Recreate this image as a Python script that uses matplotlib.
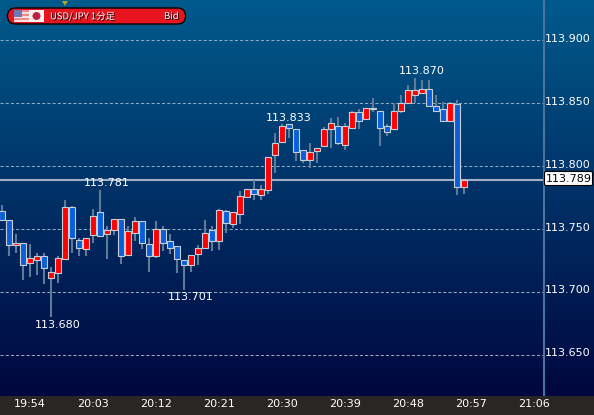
import matplotlib
matplotlib.use('Agg')
import matplotlib.pyplot as plt
import matplotlib.patheffects as pe
from matplotlib.colors import LinearSegmentedColormap
from matplotlib.patches import FancyBboxPatch, Rectangle, Circle, Polygon
import numpy as np

# USD/JPY 1 minute candles (113.xxx)
opens = [.764, .757, .737, .739, .723, .725, .728, .711, .715, .726, .767, .741, .734, .745, .763, .746, .749,
         .758, .729, .747, .756, .738, .728, .750, .740, .736, .725, .721, .730, .735, .749, .740, .764, .754,
         .762, .775, .782, .777, .781, .809, .819, .833, .829, .813, .805, .812, .816, .829, .832, .817, .830,
         .843, .837, .845, .844, .832, .829, .844, .850, .856, .858, .861, .848, .845, .836, .849, .783]
highs = [.769, .757, .746, .739, .738, .731, .731, .720, .728, .773, .768, .743, .743, .766, .781, .752, .758,
         .758, .752, .759, .756, .743, .756, .752, .746, .736, .725, .729, .737, .757, .752, .766, .765, .763,
         .780, .782, .789, .785, .807, .826, .833, .833, .829, .813, .818, .814, .831, .838, .839, .834, .844,
         .845, .846, .854, .844, .833, .850, .856, .864, .870, .868, .868, .856, .851, .851, .852, .789]
lows = [.757, .728, .731, .709, .712, .713, .706, .680, .707, .726, .731, .728, .728, .739, .744, .726, .745,
        .722, .728, .740, .734, .716, .727, .732, .730, .715, .701, .716, .721, .735, .732, .733, .747, .751,
        .754, .775, .773, .773, .778, .794, .819, .822, .804, .802, .798, .802, .816, .814, .817, .813, .830,
        .829, .837, .843, .816, .824, .829, .842, .850, .850, .858, .847, .843, .835, .835, .777, .778]
closes = [.757, .737, .739, .721, .727, .728, .719, .716, .727, .767, .743, .735, .743, .760, .744, .749, .758,
          .728, .748, .756, .739, .728, .750, .739, .735, .726, .721, .729, .735, .747, .740, .765, .755, .763,
          .776, .782, .778, .782, .807, .818, .832, .830, .811, .805, .811, .814, .829, .834, .818, .832, .843,
          .836, .846, .846, .830, .827, .844, .850, .860, .860, .861, .848, .844, .836, .850, .783, .789]

time_ticks = [4, 13, 22, 31, 40, 49, 58, 67, 76]
time_labels = ['19:54', '20:03', '20:12', '20:21', '20:30', '20:39', '20:48', '20:57', '21:06']
price_levels = [113.65, 113.70, 113.75, 113.80, 113.85, 113.90]
last_price = 113.789
# (candle index, price, label offset in points)
marks = [(7, 113.680, -2), (14, 113.781, 1), (26, 113.701, -1), (40, 113.833, 1), (59, 113.870, 1)]

o = 113 + np.array(opens)
h = 113 + np.array(highs)
l = 113 + np.array(lows)
c = 113 + np.array(closes)
idx = np.arange(len(o))

fig = plt.figure(figsize=(5.94, 4.15), dpi=100, facecolor='#2a2624')
ax = fig.add_axes([0, 19 / 415, 1, 396 / 415])

# pixel x = 2 + 7 * index, 1258 px per yen
ax.set_xlim(-2 / 7, 592 / 7)
ax.set_ylim(113.85 - 293 / 1258, 113.85 + 103 / 1258)
axis_x = 542 / 7

bg = LinearSegmentedColormap.from_list('bg', ['#005a8c', '#00063f'])
ax.imshow(np.linspace(0, 1, 256).reshape(-1, 1), cmap=bg, aspect='auto',
          extent=[*ax.get_xlim(), *ax.get_ylim()], origin='upper', zorder=0)

ax.hlines(price_levels, -2 / 7, axis_x, colors='#8fabc2', linestyles=(0, (3, 2)), linewidth=0.75, zorder=1)
ax.hlines(last_price, -2 / 7, axis_x, colors='#9fb0c6', linewidth=1.5, zorder=2)
ax.axvline(axis_x, color='#4a74a0', linewidth=1.5, zorder=2)

# candles
ax.vlines(idx, l, h, colors='#5f7a99', linewidth=1.5, zorder=3)
up = c >= o
ax.bar(idx, np.abs(c - o), bottom=np.minimum(o, c), width=5.4 / 7,
       color=np.where(up, '#ff0000', '#0a5fd8'), edgecolor='#c6ced8', linewidth=0.8, zorder=4)

for i, price, off in marks:
    # the chart puts these labels one candle to the right of the extreme
    ax.annotate(f'{price:.3f}', (i, price), xytext=(5, off), textcoords='offset points',
                ha='center', va='bottom' if off > 0 else 'top', color='white', fontsize=8, zorder=6)

for p in price_levels:
    ax.text(axis_x + 0.08, p + 0.0010, f'{p:.3f}', color='white', fontsize=8, va='center', ha='left', zorder=6)

ax.set_xticks(time_ticks, time_labels)
ax.set_yticks([])
ax.tick_params(axis='x', length=0, pad=2, labelsize=8, labelcolor='white')
ax.set_xlim(-2 / 7, 592 / 7)
for s in ax.spines.values():
    s.set_visible(False)

# overlay in pixel coordinates for header and price box
ov = fig.add_axes([0, 0, 1, 1], zorder=5)
ov.set_xlim(0, 594)
ov.set_ylim(415, 0)
ov.axis('off')

ov.add_patch(FancyBboxPatch((7.5, 8), 178, 16, boxstyle='round,pad=0,rounding_size=8',
                            fc='#e8141f', ec='black', lw=1))
for i in range(6):
    ov.add_patch(Rectangle((14, 10 + 2 * i), 15, 2, fc='#f08a8a' if i % 2 == 0 else '#f4e0e0', ec='none'))
ov.add_patch(Rectangle((14, 10), 8, 7, fc='#6a78b8', ec='none'))
ov.add_patch(Rectangle((29, 10), 15, 12, fc='#f2f2f2', ec='none'))
ov.add_patch(Circle((36.5, 16), 4, fc='#c02040', ec='none'))
ov.add_patch(Polygon([(62, 1), (68, 1), (65, 6)], fc='#a8a820', ec='none'))

shadow = [pe.withSimplePatchShadow(offset=(0.7, -0.7), shadow_rgbFace='black', alpha=0.9)]
ov.text(50, 16.5, 'USD/JPY 1分足', color='white', fontsize=6.8, va='center', ha='left',
        family=['Noto Sans CJK JP', 'DejaVu Sans'], path_effects=shadow)
ov.text(164, 16.5, 'Bid', color='white', fontsize=6.8, va='center', ha='left',
        family=['Noto Sans CJK JP', 'DejaVu Sans'], path_effects=shadow)

ov.add_patch(FancyBboxPatch((544.5, 171.5), 48, 14, boxstyle='round,pad=0,rounding_size=1.5',
                            fc='white', ec='black', lw=0.8))
ov.text(568.5, 179, f'{last_price:.3f}', color='black', fontsize=8, ha='center', va='center')

fig.savefig('out.png', dpi=100, facecolor=fig.get_facecolor())
